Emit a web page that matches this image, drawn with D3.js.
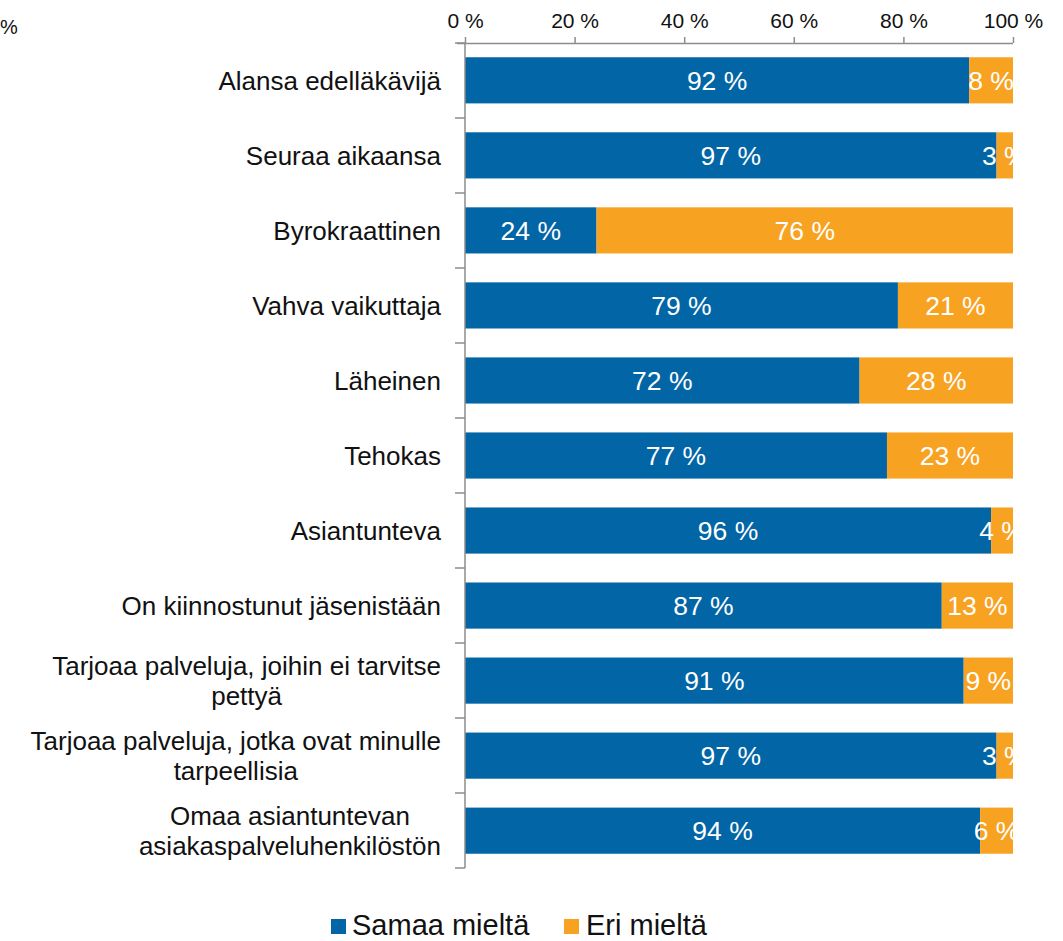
<!DOCTYPE html>
<html>
<head>
<meta charset="utf-8">
<script src="https://cdn.jsdelivr.net/npm/d3@7/dist/d3.min.js"></script>
<style>
  body { margin: 0; background: #fff; }
  svg { display: block; font-family: "Liberation Sans", Arial, sans-serif; }
</style>
</head>
<body>
<svg id="chart" width="1063" height="941"></svg>
<script>
// Statements about the organisation, share of respondents agreeing / disagreeing
const categories = [
  ["Alansa edelläkävijä"],
  ["Seuraa aikaansa"],
  ["Byrokraattinen"],
  ["Vahva vaikuttaja"],
  ["Läheinen"],
  ["Tehokas"],
  ["Asiantunteva"],
  ["On kiinnostunut jäsenistään"],
  ["Tarjoaa palveluja, joihin ei tarvitse", "pettyä"],
  ["Tarjoaa palveluja, jotka ovat minulle", "tarpeellisia"],
  ["Omaa asiantuntevan", "asiakaspalveluhenkilöstön"]
];
const agree    = [92, 97, 24, 79, 72, 77, 96, 87, 91, 97, 94];
const disagree = [8, 3, 76, 21, 28, 23, 4, 13, 9, 3, 6];
const seriesNames = ["Samaa mieltä", "Eri mieltä"];
const seriesColors = ["#0265a5", "#f8a222"];
const tickValues = [0, 20, 40, 60, 80, 100];

const FONT = "'Liberation Sans', Arial, sans-serif";
const svg = d3.select("#chart");
const plotLeft = 465, plotRight = 1013, plotTop = 43, plotBottom = 868;

const keys = categories.map((c, i) => i);
const x = d3.scaleLinear().domain([0, 100]).range([plotLeft, plotRight]);
const y = d3.scaleBand().domain(keys).range([plotTop, plotBottom]).paddingInner(0.385).paddingOuter(0.19);
const yOuter = d3.scaleBand().domain(keys).range([plotTop, plotBottom]);

const rows = keys.map(i => ({ i, agree: agree[i], disagree: disagree[i] }));
const stack = d3.stack().keys(["agree", "disagree"])(rows);

svg.append("defs").append("clipPath").attr("id", "plot")
  .append("rect").attr("x", plotLeft).attr("y", plotTop)
  .attr("width", plotRight - plotLeft).attr("height", plotBottom - plotTop);

const plot = svg.append("g").attr("clip-path", "url(#plot)");

stack.forEach((layer, li) => {
  const g = plot.append("g");
  g.selectAll("rect").data(layer).join("rect")
    .attr("x", d => x(d[0]))
    .attr("y", d => y(d.data.i))
    .attr("width", d => x(d[1]) - x(d[0]))
    .attr("height", y.bandwidth())
    .attr("fill", seriesColors[li]);
  g.selectAll("text").data(layer).join("text")
    .attr("x", d => (x(d[0]) + x(d[1])) / 2)
    .attr("y", d => y(d.data.i) + y.bandwidth() / 2)
    .attr("dy", "0.36em")
    .attr("text-anchor", "middle")
    .attr("fill", "#fff")
    .attr("font-family", FONT)
    .attr("font-size", 26.5)
    .text(d => (d[1] - d[0]) + " %");
});

// Top value axis
const xAxis = svg.append("g").attr("transform", `translate(0,${plotTop})`)
  .call(d3.axisTop(x).tickValues(tickValues).tickFormat(d => d + " %").tickSize(6).tickSizeOuter(0));
xAxis.select(".domain").attr("stroke", "#8c8c8c").attr("stroke-width", 1.5)
  .attr("d", `M${plotLeft - 8},0.5H${plotRight}`);
xAxis.selectAll(".tick line").attr("stroke", "#8c8c8c").attr("stroke-width", 1.5);
xAxis.selectAll(".tick text").attr("font-size", 21).attr("fill", "#111")
  .attr("font-family", FONT).attr("y", -15);

// Left category axis with boundary ticks
const yAxisG = svg.append("g");
yAxisG.append("line").attr("x1", plotLeft).attr("x2", plotLeft).attr("y1", plotTop).attr("y2", plotBottom)
  .attr("stroke", "#8c8c8c").attr("stroke-width", 1.5);
const bounds = keys.map(k => yOuter(k)).concat([plotBottom]);
yAxisG.selectAll(".bt").data(bounds).join("line")
  .attr("x1", plotLeft - 10).attr("x2", plotLeft).attr("y1", d => d).attr("y2", d => d)
  .attr("stroke", "#8c8c8c").attr("stroke-width", 1.5);

// Category labels (multi-line labels are centred on their widest line)
const labelRight = 441, lineH = 30;
keys.forEach(k => {
  const lines = categories[k];
  const cy = yOuter(k) + yOuter.bandwidth() / 2;
  const t = svg.append("text").attr("font-size", 26).attr("font-family", FONT).attr("fill", "#111");
  lines.forEach((ln, j) => {
    t.append("tspan").attr("y", cy + (j - (lines.length - 1) / 2) * lineH).attr("dy", "0.36em").text(ln);
  });
  const widths = [];
  t.selectAll("tspan").each(function () { widths.push(this.getComputedTextLength()); });
  const w = d3.max(widths);
  t.attr("text-anchor", "middle");
  t.selectAll("tspan").attr("x", labelRight - w / 2);
});

// Unit label at the top left edge
svg.append("text").attr("x", 0).attr("y", 34).attr("font-size", 20).attr("font-family", FONT)
  .attr("fill", "#111").text("%");

// Legend
const legend = svg.append("g");
const legendItems = [{ x: 331, tx: 352 }, { x: 564, tx: 586 }];
seriesNames.forEach((name, i) => {
  legend.append("rect").attr("x", legendItems[i].x).attr("y", 919).attr("width", 15).attr("height", 15)
    .attr("fill", seriesColors[i]);
  legend.append("text").attr("x", legendItems[i].tx).attr("y", 935).attr("font-size", 29)
    .attr("font-family", FONT).attr("fill", "#111").text(name);
});
</script>
</body>
</html>
